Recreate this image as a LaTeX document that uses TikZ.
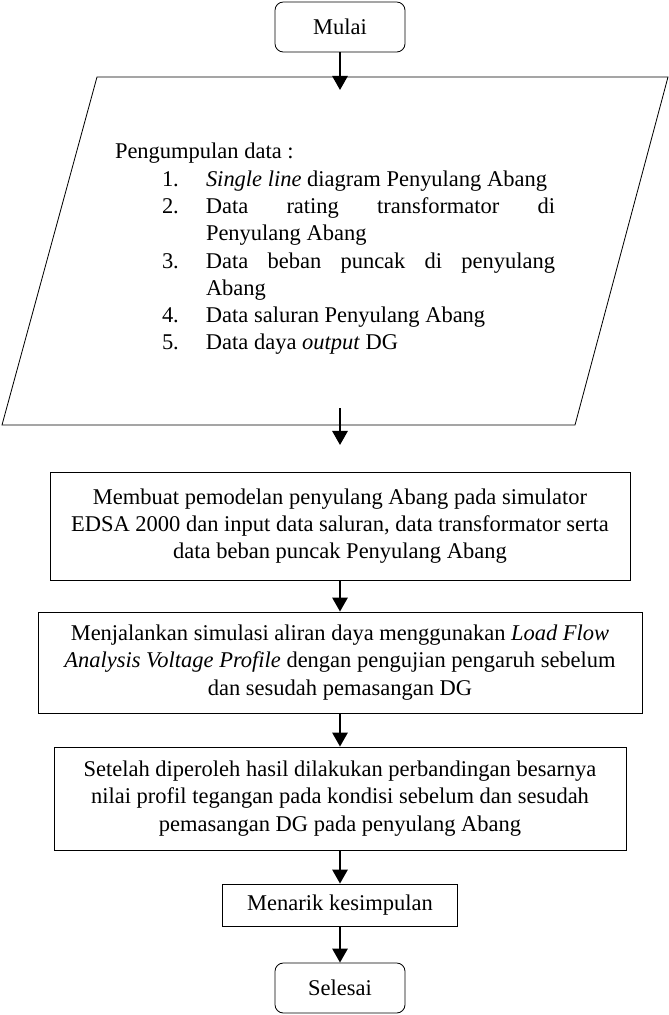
\documentclass[tikz,border=0pt]{standalone}
\usepackage{fontspec}
\setmainfont{Liberation Serif}
\usetikzlibrary{arrows.meta}

\newcommand{\dataitem}[2]{\par\noindent\hangindent=1.32cm\hangafter=1\makebox[1.32cm][l]{#1}#2\par}

\begin{document}
\begin{tikzpicture}[
    every node/.style={font=\fontsize{19.2pt}{23.3pt}\selectfont},
    box/.style={draw, line width=0.7pt, inner sep=0pt, align=center},
    terminal/.style={box, rounded corners=0.25cm, minimum width=3.9cm, minimum height=1.5cm},
    arrow/.style={->, line width=2pt, >={Triangle[length=12pt,width=13pt]}}
  ]
    \useasboundingbox (0,0) rectangle (20.07,-30.45);

    \node[terminal] (mulai) at (10.2,-0.81) {Mulai};

    % input data (parallelogram)
    \coordinate (pTL) at (2.91,-2.31);
    \coordinate (pTR) at (20.04,-2.31);
    \coordinate (pBR) at (17.25,-12.75);
    \coordinate (pBL) at (0.06,-12.75);
    \draw[line width=0.7pt] (pTL) -- (pTR) -- (pBR) -- (pBL) -- cycle;
    \node[text width=13.2cm, align=justify, inner sep=0pt] (datain) at (10.05,-7.47) {%
      \hyphenpenalty=10000 \tolerance=10000
      \spaceskip=\fontdimen2\font plus \fontdimen3\font
      Pengumpulan data :\par
      \leftskip=1.41cm
      \dataitem{1.}{\textit{Single line} diagram Penyulang Abang}
      \dataitem{2.}{Data rating transformator di Penyulang Abang}
      \dataitem{3.}{Data beban puncak di penyulang Abang}
      \dataitem{4.}{Data saluran Penyulang Abang}
      \dataitem{5.}{Data daya \textit{output} DG}};

    \coordinate (intip) at (10.2,-2.7);
    \coordinate (outstart) at (10.2,-12.24);
    \coordinate (outtip) at (10.2,-13.35);

    \node[box, minimum width=17.4cm, minimum height=3.24cm] (membuat) at (10.2,-15.78)
      {Membuat pemodelan penyulang Abang pada simulator\\
       EDSA 2000 dan input data saluran, data transformator serta\\
       data beban puncak Penyulang Abang};
    \node[box, minimum width=18.12cm, minimum height=3.03cm] (menjalankan) at (10.2,-19.875)
      {Menjalankan simulasi aliran daya menggunakan \textit{Load Flow}\\
       \textit{Analysis Voltage Profile} dengan pengujian pengaruh sebelum\\
       dan sesudah pemasangan DG};
    \node[box, minimum width=17.16cm, minimum height=3.09cm] (setelah) at (10.2,-23.955)
      {Setelah diperoleh hasil dilakukan perbandingan besarnya\\
       nilai profil tegangan pada kondisi sebelum dan sesudah\\
       pemasangan DG pada penyulang Abang};
    \node[box, minimum width=7.05cm, minimum height=1.26cm] (menarik) at (10.2,-27.15) {Menarik kesimpulan};
    \node[terminal] (selesai) at (10.2,-29.64) {Selesai};

    \draw[arrow] (mulai) -- (intip);
    \draw[arrow] (outstart) -- (outtip);
    \draw[arrow] (membuat) -- (menjalankan);
    \draw[arrow] (menjalankan) -- (setelah);
    \draw[arrow] (setelah) -- (menarik);
    \draw[arrow] (menarik) -- (selesai);
  \end{tikzpicture}
\end{document}
